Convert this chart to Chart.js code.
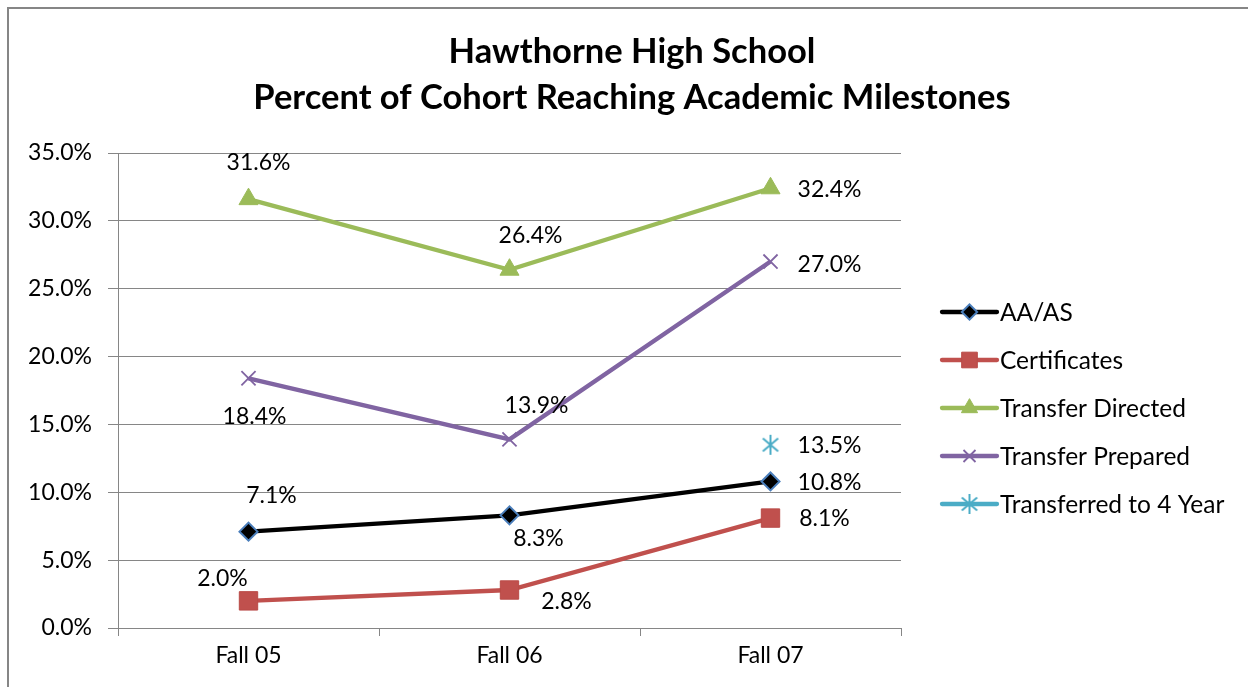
<!DOCTYPE html>
<html>
<head>
<meta charset="utf-8">
<script src="https://cdn.jsdelivr.net/npm/chart.js@4.4.0/dist/chart.umd.min.js"></script>
<style>
html,body{margin:0;padding:0;background:#fff;}
canvas{display:block;}
</style>
</head>
<body>
<canvas id="c" width="1248" height="687"></canvas>
<script>
// ---- data ----
const categories = ["Fall 05", "Fall 06", "Fall 07"];
const seriesNames = ["AA/AS", "Certificates", "Transfer Directed", "Transfer Prepared", "Transferred to 4 Year"];
const aaas = [7.1, 8.3, 10.8];
const certificates = [2.0, 2.8, 8.1];
const transferDirected = [31.6, 26.4, 32.4];
const transferPrepared = [18.4, 13.9, 27.0];
const transferred4yr = [null, null, 13.5];
const yTicks = [0, 5, 10, 15, 20, 25, 30, 35];
const titleLines = ["Hawthorne High School", "Percent of Cohort Reaching Academic Milestones"];

// ---- label offsets (style, per series / per point) ----
const labelOffsets = [
  [[23, -36], [29, 23], [59, 1]],
  [[-26, -22], [57, 12], [54, 1]],
  [[10, -37], [21, -34], [59, 1]],
  [[6, 38], [27, -34], [59, 3]],
  [null, null, [59, 1]]
];

const FONT = "Lato, 'Open Sans', sans-serif";

// asterisk marker
function makeAsterisk(color, r) {
  const c = document.createElement('canvas');
  const s = r * 2 + 4;
  c.width = s; c.height = s;
  const g = c.getContext('2d');
  g.strokeStyle = color; g.lineWidth = 2;
  const m = s / 2;
  g.beginPath();
  g.moveTo(m, m - r); g.lineTo(m, m + r);
  const a = 40 * Math.PI / 180;
  const dx = r * Math.cos(a), dy = r * Math.sin(a);
  g.moveTo(m - dx, m - dy); g.lineTo(m + dx, m + dy);
  g.moveTo(m - dx, m + dy); g.lineTo(m + dx, m - dy);
  g.stroke();
  return c;
}
const asterisk = makeAsterisk('#4bacc6', 10);

const datasets = [
  {label: seriesNames[0], data: aaas, borderColor: '#000000', backgroundColor: '#000000',
   pointStyle: 'rectRot', pointRadius: 9, pointBorderColor: '#4a7ebb', pointBackgroundColor: '#000000', pointBorderWidth: 2},
  {label: seriesNames[1], data: certificates, borderColor: '#c0504d', backgroundColor: '#c0504d',
   pointStyle: 'rect', pointRadius: 13, pointBorderColor: '#b94a47', pointBackgroundColor: '#c0504d', pointBorderWidth: 1},
  {label: seriesNames[2], data: transferDirected, borderColor: '#9bbb59', backgroundColor: '#9bbb59',
   pointStyle: 'triangle', pointRadius: 11, pointBorderColor: '#9bbb59', pointBackgroundColor: '#9bbb59', pointBorderWidth: 1},
  {label: seriesNames[3], data: transferPrepared, borderColor: '#8064a2', backgroundColor: '#8064a2',
   pointStyle: 'crossRot', pointRadius: 10, pointBorderColor: '#8064a2', pointBackgroundColor: '#8064a2', pointBorderWidth: 1.8},
  {label: seriesNames[4], data: transferred4yr, borderColor: '#4bacc6', backgroundColor: '#4bacc6',
   pointStyle: asterisk, pointRadius: 10, pointBorderColor: '#4bacc6', pointBackgroundColor: '#4bacc6', pointBorderWidth: 2}
].map(d => Object.assign({borderWidth: 4.3, fill: false, tension: 0, spanGaps: false, pointHoverRadius: d.pointRadius}, d));

const framePlugin = {
  id: 'frame',
  beforeDraw(chart) {
    const ctx = chart.ctx;
    ctx.save();
    ctx.fillStyle = '#fff';
    ctx.fillRect(0, 0, chart.width, chart.height);
    ctx.strokeStyle = '#868686';
    ctx.lineWidth = 2;
    ctx.beginPath();
    ctx.moveTo(8, chart.height + 2);
    ctx.lineTo(8, 8);
    ctx.lineTo(chart.width + 2, 8);
    ctx.stroke();
    // title
    ctx.fillStyle = '#000';
    ctx.font = "bold 34.5px " + FONT;
    ctx.textAlign = 'center';
    ctx.textBaseline = 'middle';
    ctx.fillText(titleLines[0], 632, 52);
    ctx.fillText(titleLines[1], 632, 98);
    ctx.restore();
  },
  afterDatasetsDraw(chart) {
    const ctx = chart.ctx;
    ctx.save();
    ctx.fillStyle = '#000';
    ctx.font = "23px " + FONT;
    ctx.textAlign = 'center';
    ctx.textBaseline = 'middle';
    chart.data.datasets.forEach((ds, i) => {
      const meta = chart.getDatasetMeta(i);
      ds.data.forEach((v, j) => {
        if (v === null || v === undefined) return;
        const off = labelOffsets[i][j] || [0, -20];
        const el = meta.data[j];
        ctx.fillText(v.toFixed(1) + '%', el.x + off[0], el.y + off[1]);
      });
    });
    // legend
    const lx0 = 942, lx1 = 997, ys = [312, 360, 408, 456, 504];
    chart.data.datasets.forEach((ds, i) => {
      const y = ys[i];
      ctx.strokeStyle = ds.borderColor;
      ctx.lineWidth = 4.3;
      ctx.lineCap = 'round';
      ctx.beginPath(); ctx.moveTo(lx0, y); ctx.lineTo(lx1, y); ctx.stroke();
      ctx.lineCap = 'butt';
      ctx.fillStyle = ds.pointBackgroundColor;
      ctx.strokeStyle = ds.pointBorderColor;
      ctx.lineWidth = ds.pointBorderWidth;
      Chart.helpers.drawPoint(ctx, {pointStyle: ds.pointStyle, radius: ds.pointRadius * 0.85, rotation: 0, borderWidth: ds.pointBorderWidth}, (lx0 + lx1) / 2, y);
      ctx.fillStyle = '#000';
      ctx.textAlign = 'left';
      ctx.font = "24.5px " + FONT;
      ctx.fillText(ds.label, 1000, y + 1);
    });
    ctx.restore();
  }
};

new Chart(document.getElementById('c'), {
  type: 'line',
  data: {labels: categories, datasets: datasets},
  plugins: [framePlugin],
  options: {
    responsive: false,
    animation: false,
    devicePixelRatio: 1,
    layout: {padding: {top: 153, right: 347, bottom: 0, left: 0}},
    plugins: {legend: {display: false}, title: {display: false}, tooltip: {enabled: false}},
    scales: {
      x: {
        offset: true,
        grid: {offset: true, drawOnChartArea: false, drawTicks: true, tickLength: 8, color: '#868686', lineWidth: 1},
        border: {display: true, color: '#868686', width: 1},
        ticks: {color: '#000', font: {family: FONT, size: 23}, padding: 6, maxRotation: 0},
        afterFit(s) { s.height = 59; }
      },
      y: {
        min: 0, max: 35,
        afterBuildTicks(s) { s.ticks = yTicks.map(v => ({value: v})); },
        grid: {color: '#868686', lineWidth: 1, tickLength: 10},
        border: {display: true, color: '#868686', width: 1},
        ticks: {color: '#000', font: {family: FONT, size: 23}, padding: 16, callback: v => Number(v).toFixed(1) + '%'},
        afterFit(s) { s.width = 118; }
      }
    }
  }
});
</script>
</body>
</html>
